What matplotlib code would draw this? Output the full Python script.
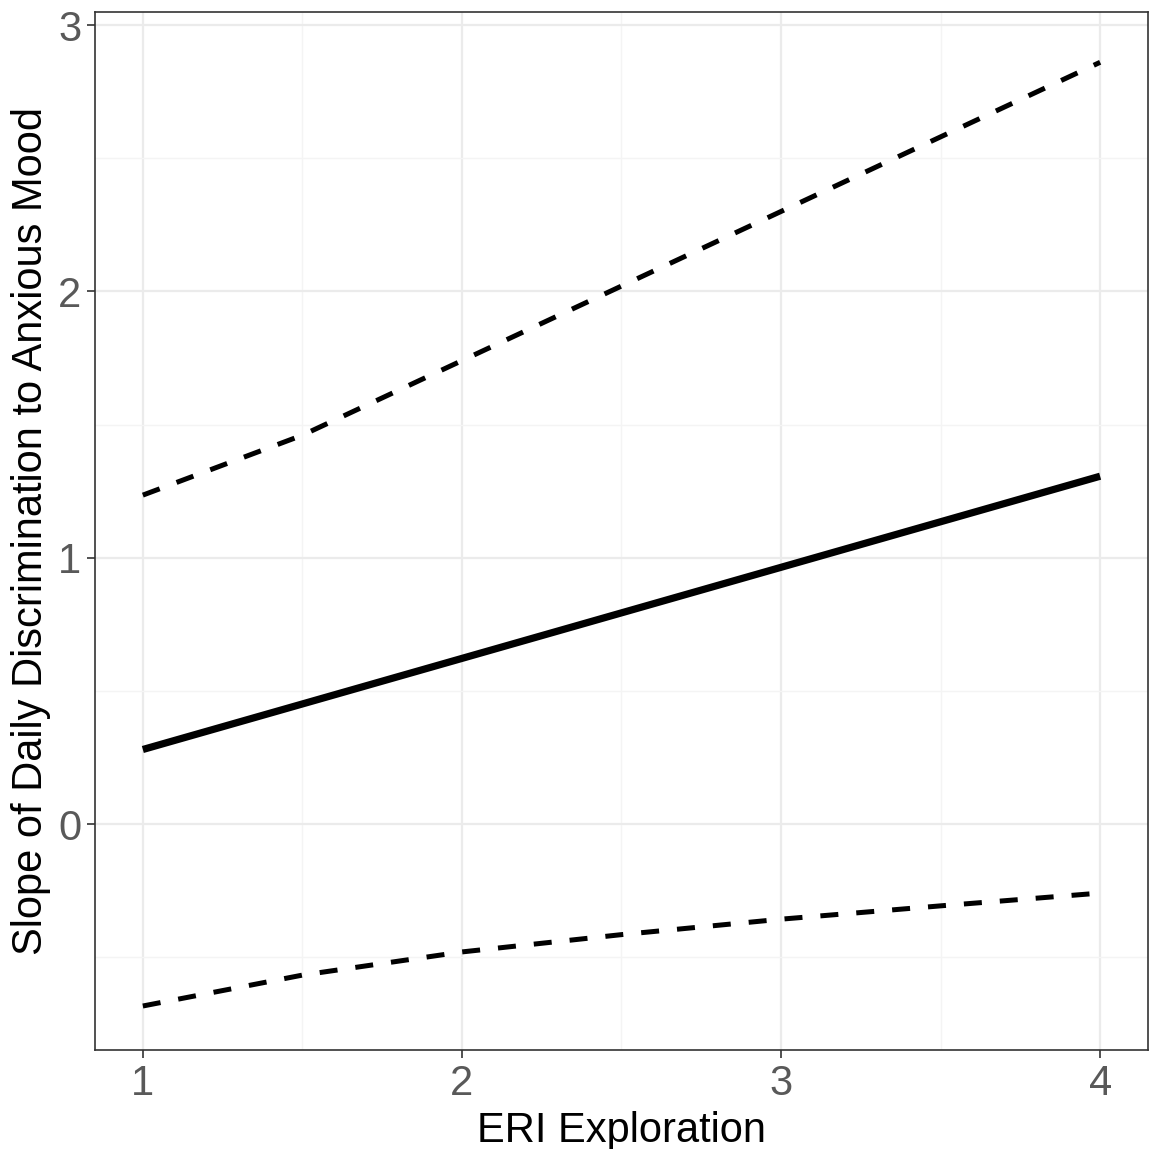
import matplotlib.pyplot as plt
from matplotlib.ticker import MultipleLocator

plt.rcParams['font.family'] = ['Liberation Sans', 'DejaVu Sans']

# values
eri = [1.0, 1.5, 2.0, 2.5, 3.0, 3.5, 4.0]
slope = [0.28, 0.451, 0.622, 0.793, 0.964, 1.135, 1.306]
upper = [1.235, 1.46, 1.74, 2.02, 2.30, 2.58, 2.86]
lower = [-0.683, -0.567, -0.48, -0.415, -0.357, -0.307, -0.259]

x_ticks = [1, 2, 3, 4]
y_ticks = [0, 1, 2, 3]

fig = plt.figure(figsize=(11.54, 11.49), dpi=100)
ax = fig.add_axes([0.0823, 0.0862, 0.9125, 0.9034])

ax.plot(eri, upper, color='black', lw=3.6, linestyle=(0, (3.6, 3.6)), dash_capstyle='butt')
ax.plot(eri, slope, color='black', lw=5.2, solid_capstyle='butt')
ax.plot(eri, lower, color='black', lw=3.6, linestyle=(0, (3.6, 3.6)), dash_capstyle='butt')

ax.set_xlim(0.85, 4.15)
ax.set_ylim(-0.848, 3.049)
ax.set_xticks(x_ticks)
ax.set_yticks(y_ticks)
ax.xaxis.set_minor_locator(MultipleLocator(0.5))
ax.yaxis.set_minor_locator(MultipleLocator(0.5))
ax.grid(which='major', color='#EBEBEB', lw=1.6)
ax.grid(which='minor', color='#F4F4F4', lw=1.0)
ax.set_axisbelow(True)
ax.tick_params(which='minor', length=0)
ax.tick_params(which='major', length=6, width=1.2, color='#333333', labelsize=30, labelcolor='#595959', pad=4)
for s in ax.spines.values():
    s.set_color('#333333')
    s.set_linewidth(1.2)

ax.set_xlabel('ERI Exploration', fontsize=30, labelpad=5)
ax.set_ylabel('Slope of Daily Discrimination to Anxious Mood', fontsize=30, labelpad=5)

fig.savefig('out.png', dpi=100)
